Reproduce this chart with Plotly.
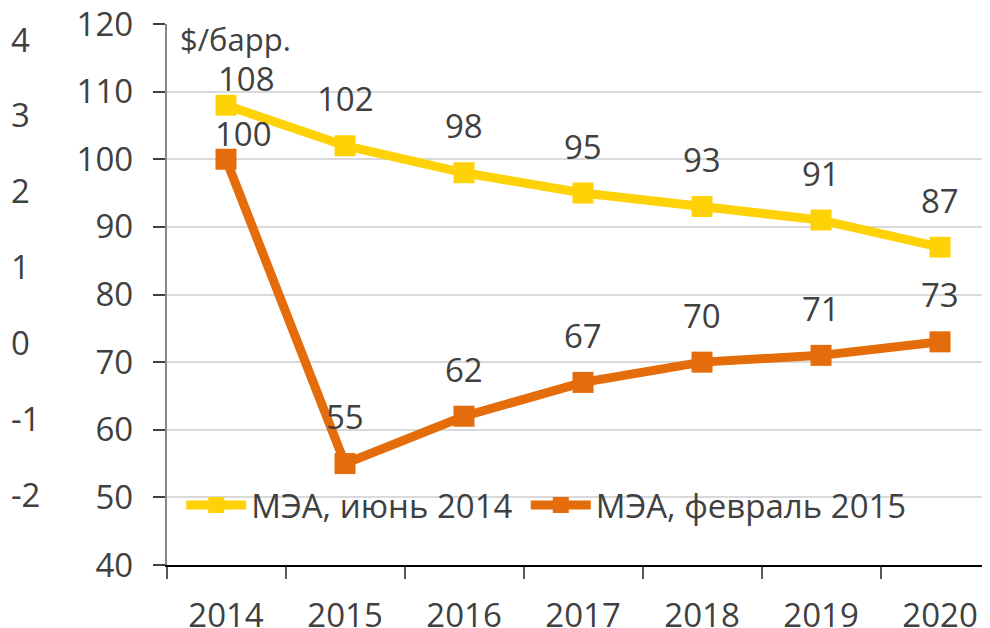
import plotly.graph_objects as go

years = ["2014", "2015", "2016", "2017", "2018", "2019", "2020"]
iea_june_2014 = [108, 102, 98, 95, 93, 91, 87]
iea_feb_2015 = [100, 55, 62, 67, 70, 71, 73]
name_june = "МЭА, июнь 2014"
name_feb = "МЭА, февраль 2015"
unit_label = "$/барр."
y_left_ticks = [40, 50, 60, 70, 80, 90, 100, 110, 120]
y_outer_ticks = [-2, -1, 0, 1, 2, 3, 4]
y_outer_text = ["-2", "-1", "0", "1", "2", "3", "4"]

YELLOW = "#FFD208"
ORANGE = "#E46C0A"
TXT = "#404040"
FONT = "Open Sans"
FS = 33

# label offsets (style)
yshift_june = [27, 47, 47, 47, 47, 47, 47]
xshift_june = [20, 0, 0, 0, 0, 0, 0]
yshift_feb = [26, 47, 47, 47, 47, 47, 47]
xshift_feb = [17, 0, 0, 0, 0, 0, 0]

# the page body adds an 8px offset; layout below compensates
fig = go.Figure()
fig.add_trace(go.Scatter(
    x=years, y=iea_june_2014, name=name_june, mode="lines+markers",
    line=dict(color=YELLOW, width=9),
    marker=dict(symbol="square", size=21, color=YELLOW),
    legend="legend",
))
fig.add_trace(go.Scatter(
    x=years, y=iea_feb_2015, name=name_feb, mode="lines+markers",
    line=dict(color=ORANGE, width=9),
    marker=dict(symbol="square", size=21, color=ORANGE),
    legend="legend2",
))
# invisible trace for the outer axis
fig.add_trace(go.Scatter(x=[years[0]], y=[0], yaxis="y2", mode="markers",
                         marker=dict(opacity=0), showlegend=False, hoverinfo="skip"))

anns = []
for i, v in enumerate(iea_june_2014):
    anns.append(dict(x=i, y=v, xref="x", yref="y", text=str(v), showarrow=False,
                     yshift=yshift_june[i], xshift=xshift_june[i],
                     font=dict(family=FONT, size=FS, color=TXT)))
for i, v in enumerate(iea_feb_2015):
    anns.append(dict(x=i, y=v, xref="x", yref="y", text=str(v), showarrow=False,
                     yshift=yshift_feb[i], xshift=xshift_feb[i],
                     font=dict(family=FONT, size=FS, color=TXT)))
anns.append(dict(xref="paper", yref="paper", x=0.172, y=1.0, xanchor="left", yanchor="top",
                 text=unit_label, showarrow=False, yshift=8,
                 font=dict(family=FONT, size=FS - 2, color=TXT)))

leg_common = dict(orientation="h", xanchor="left", y=0.111, yanchor="middle",
                  font=dict(family=FONT, size=FS, color=TXT), bgcolor="rgba(0,0,0,0)",
                  itemwidth=60)

fig.update_layout(
    width=990, height=628,
    margin=dict(l=0, r=0, t=16, b=71, autoexpand=False),
    paper_bgcolor="white", plot_bgcolor="white",
    font=dict(family=FONT, size=FS, color=TXT),
    showlegend=True,
    legend=dict(x=0.175, **leg_common),
    legend2=dict(x=0.523, **leg_common),
    xaxis=dict(
        type="category", domain=[158.5 / 990, 1], range=[-0.5, 6.487], automargin=False,
        showline=True, linecolor="#000000", linewidth=1.5,
        ticks="outside", tickson="boundaries", ticklen=12, tickcolor="#595959", tickwidth=1.5,
        showgrid=False, ticklabelstandoff=21, ticklabeloverflow="allow",
        tickfont=dict(family=FONT, size=FS, color=TXT),
    ),
    yaxis=dict(
        range=[40, 120], tickvals=y_left_ticks, automargin=False,
        showline=True, linecolor="#868686", linewidth=1.5,
        ticks="outside", ticklen=12, tickcolor="#404040", tickwidth=1.5,
        showgrid=True, gridcolor="#D9D9D9", gridwidth=1.5, zeroline=False,
        ticklabelstandoff=13, ticklabeloverflow="allow",
        tickfont=dict(family=FONT, size=FS, color=TXT),
    ),
    yaxis2=dict(
        overlaying="y", anchor="free", position=0.0, side="right", automargin=False,
        range=[-2.923, 4.211], tickvals=y_outer_ticks, ticktext=y_outer_text,
        showline=False, ticks="", showgrid=False, zeroline=False,
        ticklabelstandoff=2, ticklabeloverflow="allow",
        tickfont=dict(family=FONT, size=FS, color=TXT),
    ),
    annotations=anns,
)

fig.write_html("out.html")
